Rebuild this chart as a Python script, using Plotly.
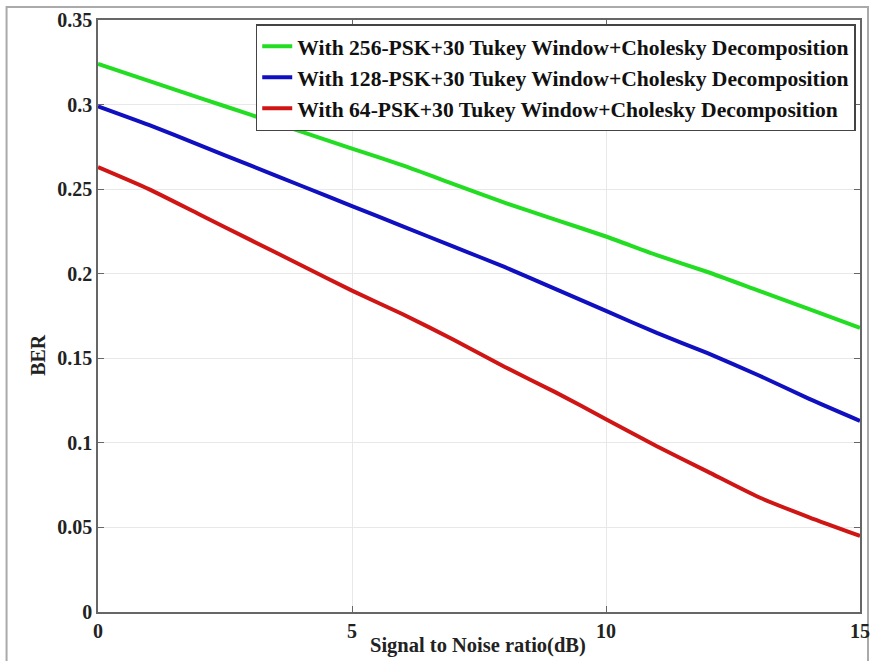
import plotly.graph_objects as go

snr = list(range(0, 16))
ber_256 = [0.324, 0.314, 0.304, 0.294, 0.284, 0.274, 0.264, 0.253, 0.242, 0.232, 0.222, 0.211, 0.201, 0.190, 0.179, 0.168]
ber_128 = [0.299, 0.288, 0.276, 0.264, 0.252, 0.240, 0.228, 0.216, 0.204, 0.191, 0.178, 0.165, 0.153, 0.140, 0.126, 0.113]
ber_64 = [0.263, 0.250, 0.235, 0.220, 0.205, 0.190, 0.176, 0.161, 0.145, 0.130, 0.114, 0.098, 0.083, 0.068, 0.056, 0.045]

names = [
    "With 256-PSK+30 Tukey Window+Cholesky Decomposition",
    "With 128-PSK+30 Tukey Window+Cholesky Decomposition",
    "With 64-PSK+30 Tukey Window+Cholesky Decomposition",
]
colors = ["#22dd22", "#1010c0", "#d01515"]
series = [ber_256, ber_128, ber_64]

x_ticks = [0, 5, 10, 15]
y_ticks = [0, 0.05, 0.1, 0.15, 0.2, 0.25, 0.3, 0.35]
y_tick_text = ["0", "0.05", "0.1", "0.15", "0.2", "0.25", "0.3", "0.35"]

FF = "Liberation Serif"
fig = go.Figure()
for n, c, s in zip(names, colors, series):
    fig.add_trace(go.Scatter(x=snr, y=s, mode="lines", name=n,
                             line=dict(color=c, width=4, shape="spline", smoothing=0.6)))

fig.update_layout(
    width=870, height=661,
    margin=dict(l=98, r=10, t=20, b=49),
    paper_bgcolor="white", plot_bgcolor="white",
    font=dict(family=FF, size=20, color="#222222"),
    showlegend=True,
    legend=dict(x=0.207, y=0.993, xanchor="left", yanchor="top",
                bgcolor="white", bordercolor="#444444", borderwidth=1.5,
                font=dict(family=FF, size=21.6, color="#111111", weight="bold"),
                tracegroupgap=0, itemwidth=30),
    xaxis=dict(range=[0, 15], tickvals=x_ticks, showgrid=True, gridcolor="#e8e8e8",
               ticks="inside", ticklen=6, tickcolor="#666666",
               showline=True, linecolor="#666666", linewidth=1.5, mirror="ticks",
               tickfont=dict(family=FF, size=20, weight="bold", color="#222222"),
               automargin=False, zeroline=False),
    yaxis=dict(range=[0, 0.35], tickvals=y_ticks, ticktext=y_tick_text, showgrid=True,
               gridcolor="#e8e8e8", ticks="inside", ticklen=6, tickcolor="#666666",
               showline=True, linecolor="#666666", linewidth=1.5, mirror="ticks",
               tickfont=dict(family=FF, size=20, weight="bold", color="#222222"),
               automargin=False, zeroline=False),
)
fig.add_annotation(text="<b>Signal to Noise ratio(dB)</b>", xref="paper", yref="paper",
                   x=0.499, y=-0.056, xanchor="center", yanchor="middle", showarrow=False,
                   font=dict(family=FF, size=20.5, color="#222222"))
fig.add_annotation(text="<b>BER</b>", xref="paper", yref="paper",
                   x=-0.079, y=0.434, xanchor="center", yanchor="middle", showarrow=False,
                   textangle=-90, font=dict(family=FF, size=20, color="#222222"))
fig.add_shape(type="rect", xref="paper", yref="paper",
              x0=-0.12, x1=1.0105, y0=-0.09, y1=1.022,
              line=dict(color="#aaaaaa", width=2), fillcolor="rgba(0,0,0,0)", layer="below")

fig.write_html("out.html", config={"displayModeBar": False},
               post_script="document.body.style.margin='0';document.body.style.overflow='hidden';")
